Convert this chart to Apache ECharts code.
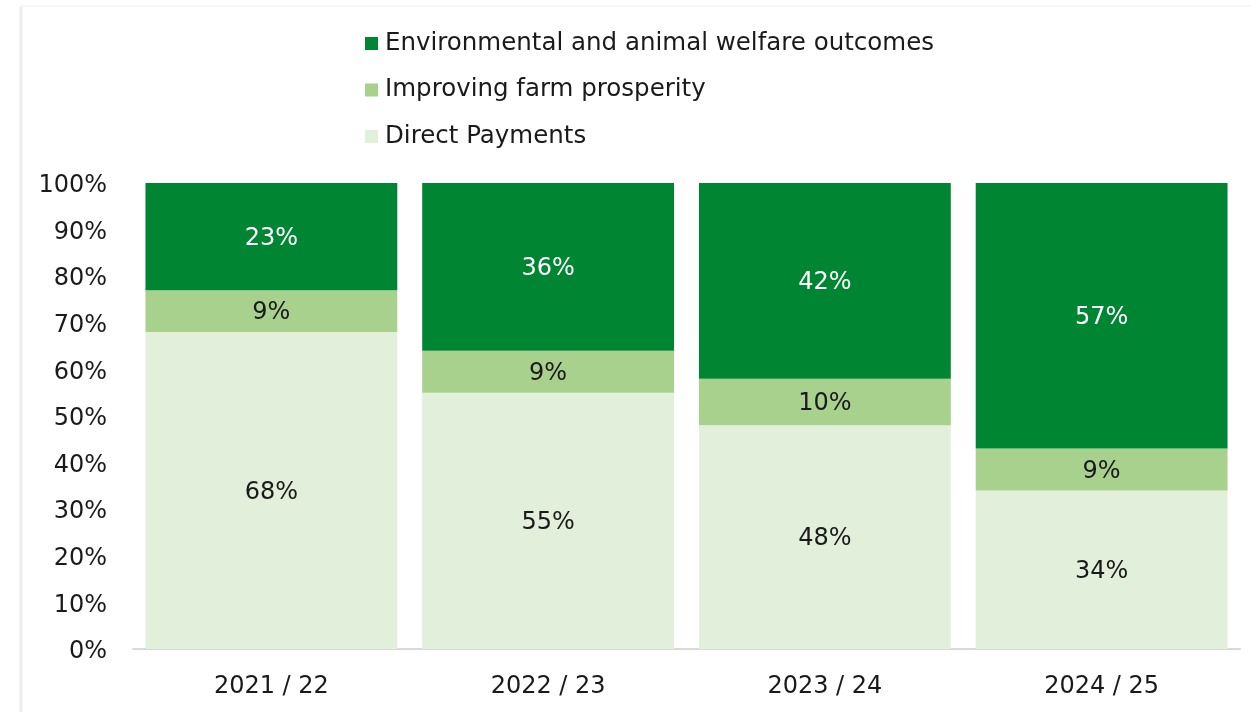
<!DOCTYPE html>
<html>
<head>
<meta charset="utf-8">
<script src="https://cdn.jsdelivr.net/npm/echarts@6/dist/echarts.min.js"></script>
<style>
html,body{margin:0;padding:0;background:#fff;}
#chart{width:1251px;height:712px;}
</style>
</head>
<body>
<div id="chart"></div>
<script>
var categories = ['2021 / 22', '2022 / 23', '2023 / 24', '2024 / 25'];
var directPayments = [68, 55, 48, 34];
var farmProsperity = [9, 9, 10, 9];
var envOutcomes = [23, 36, 42, 57];
var yTicks = [0, 10, 20, 30, 40, 50, 60, 70, 80, 90, 100];

var chart = echarts.init(document.getElementById('chart'));
var font = '"DejaVu Sans", sans-serif';
function lbl(color) {
  return {show: true, position: 'inside', color: color, fontSize: 24, fontFamily: font, offset: [0, 2],
    formatter: function (p) { return p.value + '%'; }};
}
chart.setOption({
  animation: false,
  textStyle: {fontFamily: font},
  graphic: [
    {type: 'line', shape: {x1: 21, y1: 6, x2: 21, y2: 712}, style: {stroke: '#ededed', lineWidth: 3}},
    {type: 'line', shape: {x1: 20, y1: 6, x2: 1251, y2: 6}, style: {stroke: '#f7f7f7', lineWidth: 2}}
  ],
  legend: {
    orient: 'vertical', left: 360, top: 26, itemWidth: 13, itemHeight: 13, itemGap: 21.5,
    icon: 'rect',
    data: ['Environmental and animal welfare outcomes', 'Improving farm prosperity', 'Direct Payments'],
    textStyle: {fontSize: 24.5, color: '#1a1a1a', fontFamily: font, padding: [0, 0, 0, 2]}
  },
  grid: {left: 133, right: 11, top: 183, bottom: 63},
  xAxis: {
    type: 'category', data: categories,
    axisLine: {lineStyle: {color: '#d9d9d9', width: 2}},
    axisTick: {show: false},
    axisLabel: {color: '#1a1a1a', fontSize: 24, margin: 26, fontFamily: font}
  },
  yAxis: {
    type: 'value', min: 0, max: 100, interval: 10,
    axisLine: {show: false}, axisTick: {show: false}, splitLine: {show: false},
    axisLabel: {color: '#1a1a1a', fontSize: 24, margin: 26, fontFamily: font,
      formatter: function (v) { return yTicks.indexOf(v) >= 0 ? '{a|' + v + '%}' : ''; },
      rich: {a: {fontSize: 24, fontFamily: font, color: '#1a1a1a', padding: [6, 0, 0, 0]}}}
  },
  series: [
    {name: 'Direct Payments', type: 'bar', stack: 't', data: directPayments, barCategoryGap: '9%',
      itemStyle: {color: '#e2efda'}, label: lbl('#1a1a1a')},
    {name: 'Improving farm prosperity', type: 'bar', stack: 't', data: farmProsperity,
      itemStyle: {color: '#a9d18e'}, label: lbl('#1a1a1a')},
    {name: 'Environmental and animal welfare outcomes', type: 'bar', stack: 't', data: envOutcomes,
      itemStyle: {color: '#008533'}, label: lbl('#ffffff')}
  ]
});
</script>
</body>
</html>
